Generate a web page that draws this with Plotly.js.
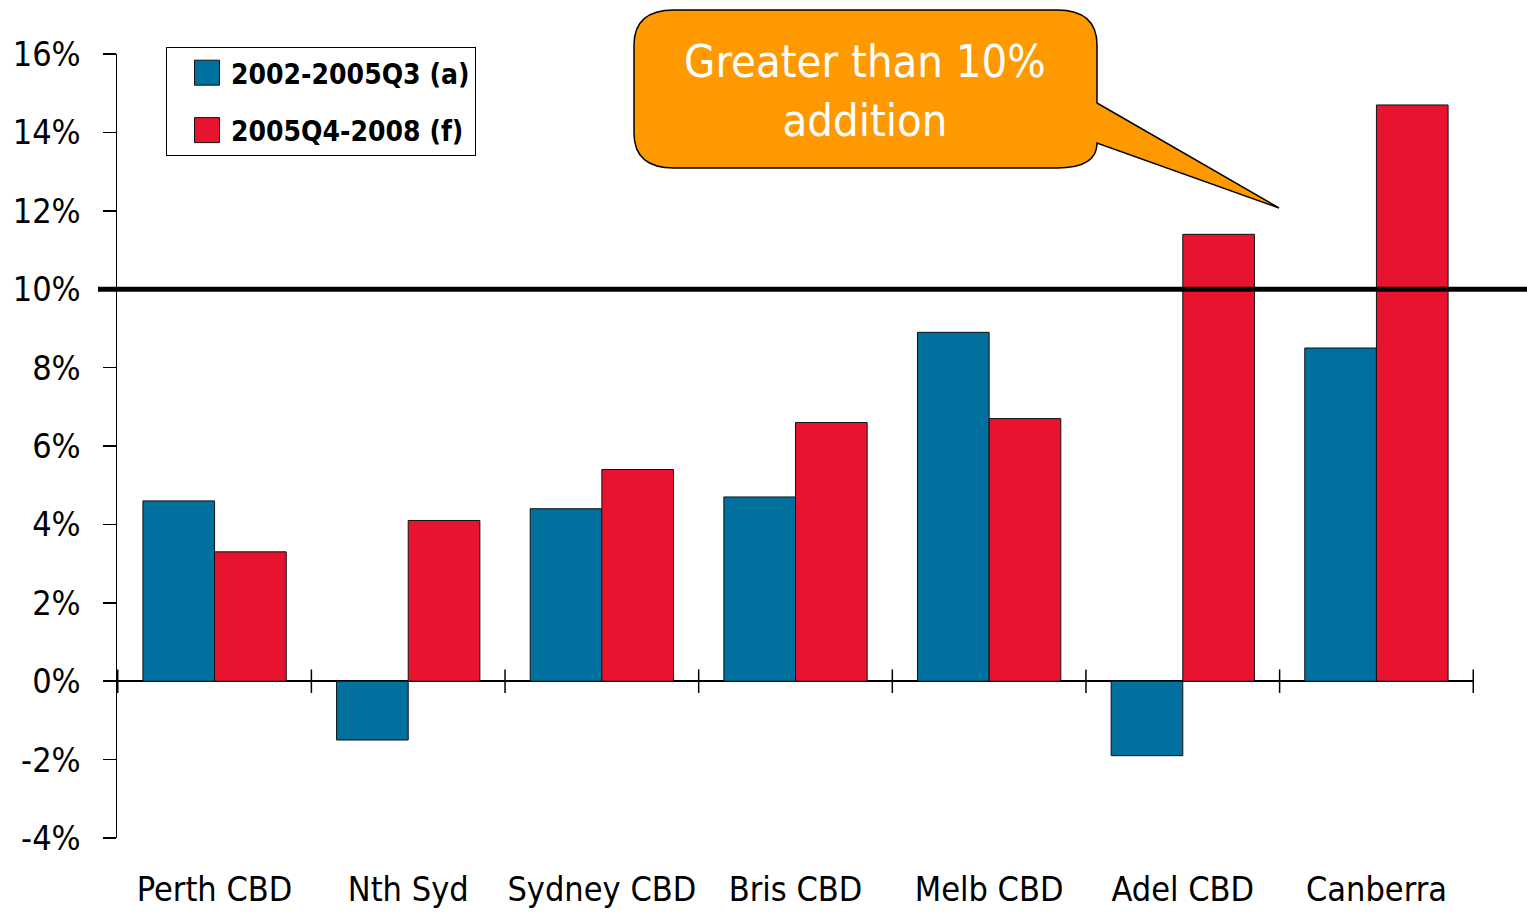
<!DOCTYPE html>
<html>
<head>
<meta charset="utf-8">
<script src="https://cdn.plot.ly/plotly-3.0.1.min.js"></script>
<style>html,body{margin:0;padding:0;background:#fff;}#chart{width:1527px;height:913px;}</style>
</head>
<body>
<div id="chart"></div>
<script>
const categories = ["Perth CBD", "Nth Syd", "Sydney CBD", "Bris CBD", "Melb CBD", "Adel CBD", "Canberra"];
const series1Name = "2002-2005Q3 (a)";
const series1Values = [4.6, -1.5, 4.4, 4.7, 8.9, -1.9, 8.5];
const series2Name = "2005Q4-2008 (f)";
const series2Values = [3.3, 4.1, 5.4, 6.6, 6.7, 11.4, 14.7];
const yTickValues = [-4, -2, 0, 2, 4, 6, 8, 10, 12, 14, 16];
const yTickLabels = ["-4%", "-2%", "0%", "2%", "4%", "6%", "8%", "10%", "12%", "14%", "16%"];
const thresholdValue = 10;
const calloutText = "Greater than 10%<br>addition";

const FONT = '"Liberation Sans Narrow", "Arial Narrow", "DejaVu Sans Condensed", sans-serif';
const W = 1527, H = 913, L = 117, R = 53, T = 54, B = 75;
const PW = W - L - R, PH = H - T - B;
const px = X => ((X - L) / PW).toFixed(5);
const py = Y => ((H - B - Y) / PH).toFixed(5);
const P = (X, Y) => px(X) + "," + py(Y);

const traces = [
  {type: "bar", name: series1Name, x: categories, y: series1Values, legendgroup: "a",
   marker: {color: "#00709E", line: {color: "#111", width: 1}}},
  {type: "bar", name: series2Name, x: categories, y: series2Values, legendgroup: "b",
   marker: {color: "#E8132F", line: {color: "#111", width: 1}}}
];

const shapes = [];
for (let i = 0; i <= categories.length; i++) {
  shapes.push({type: "line", xref: "x", yref: "y", x0: i - 0.5, x1: i - 0.5, y0: -0.3, y1: 0.3,
               line: {color: "#000", width: 1.5}});
}
shapes.push({type: "line", xref: "paper", yref: "y", x0: px(98), x1: px(1527), y0: thresholdValue, y1: thresholdValue,
             line: {color: "#000", width: 5}, layer: "above"});
const calloutPath = "M" + P(674,10) + " L" + P(1057,10) + " Q" + P(1097,10) + " " + P(1097,45) +
  " L" + P(1097,103) + " L" + P(1279,208) + " L" + P(1097,143) +
  " Q" + P(1097,168) + " " + P(1057,168) + " L" + P(674,168) + " Q" + P(634,168) + " " + P(634,133) +
  " L" + P(634,45) + " Q" + P(634,10) + " " + P(674,10) + " Z";
shapes.push({type: "path", xref: "paper", yref: "paper", path: calloutPath,
             fillcolor: "#FF9900", line: {color: "#000", width: 1.5}, layer: "above"});

const layout = {
  width: W, height: H,
  margin: {l: L, r: R, t: T, b: B, pad: 0},
  paper_bgcolor: "#fff", plot_bgcolor: "#fff",
  font: {family: FONT, color: "#000", size: 34},
  barmode: "group", bargap: 0.26, bargroupgap: 0,
  showlegend: true,
  legend: {x: px(166), y: py(47), xanchor: "left", yanchor: "top",
           bordercolor: "#000", borderwidth: 1, bgcolor: "#fff",
           font: {family: FONT, size: 28, color: "#000", weight: "bold"},
           traceorder: "grouped", tracegroupgap: 18, itemwidth: 54},
  xaxis: {type: "category", showline: false, showgrid: false, zeroline: false, ticks: "",
          tickfont: {family: FONT, size: 34}, ticklabelstandoff: 28, fixedrange: true},
  yaxis: {range: [-4, 16], tickmode: "array", tickvals: yTickValues, ticktext: yTickLabels,
          showgrid: false,
          showline: true, linecolor: "#000", linewidth: 1.5,
          ticks: "outside", ticklen: 13, tickwidth: 1.5, tickcolor: "#000",
          zeroline: true, zerolinecolor: "#000", zerolinewidth: 1.5,
          tickfont: {family: FONT, size: 34}, ticklabelstandoff: 15, fixedrange: true},
  shapes: shapes,
  annotations: [
    {xref: "paper", yref: "paper", x: px(865), y: py(91), xanchor: "center", yanchor: "middle",
     text: calloutText, showarrow: false, align: "center",
     font: {family: FONT, size: 45, color: "#fff"}}
  ]
};

Plotly.newPlot("chart", traces, layout, {displayModeBar: false, staticPlot: true}).then(gd => {
  gd.querySelectorAll(".legend .legendpoints path").forEach(p => {
    p.setAttribute("d", "M20.5,12.5H-4.5V-12.5H20.5Z");
  });
});
</script>
</body>
</html>
